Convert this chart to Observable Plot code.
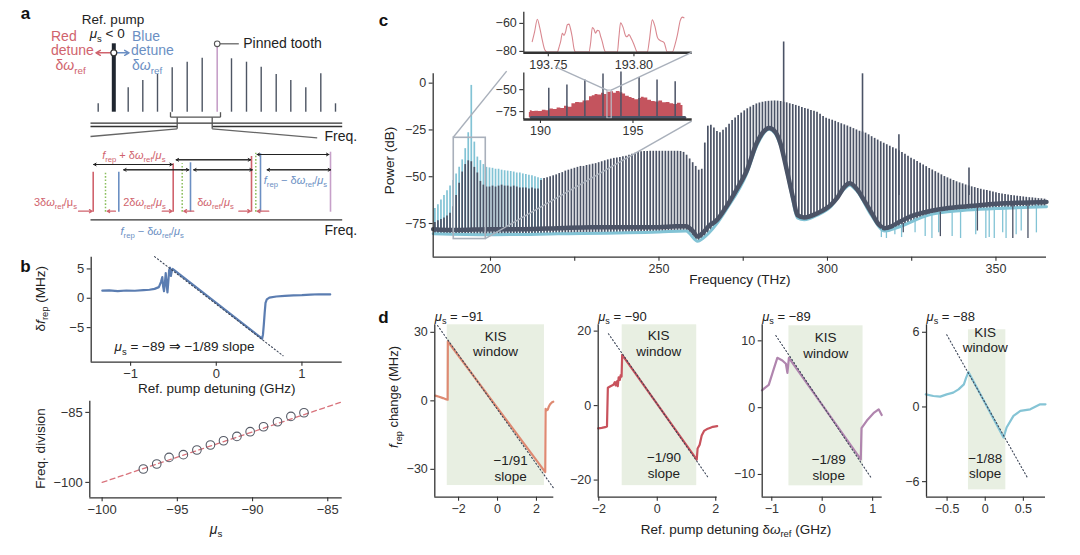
<!DOCTYPE html>
<html><head><meta charset="utf-8">
<script src="https://cdn.jsdelivr.net/npm/d3@7"></script>
<script src="https://cdn.jsdelivr.net/npm/@observablehq/plot@0.6"></script>
<style>
html,body{margin:0;padding:0;background:#fff;}
#root{position:relative;width:1080px;height:555px;overflow:hidden;background:#fff;font-family:'Liberation Sans',Arial,sans-serif;}
#root > div{position:absolute;}
</style></head><body><div id="root"></div>
<script>
// ---------------- DATA ----------------
// Panel c: comb teeth (0.9 THz comb), dark trace tooth peaks (dB)
const combStartTHz = 183.5, combSpacingTHz = 0.9;
const darkTeethDb = [
  -74.5,-73.5,-72.8,-72,-71,-69.5,-66,-60,-53.5,-47.5,
  -43.5,-41.5,-42,-45,-48,-52.5,-54.5,-55.5,-55.5,-55,
  -55.5,-55,-54.5,-55,-55,-55.5,-55,-55.5,-56,-56,
  -56,-56.5,-56,-56.5,-56.5,-52,-51,-50.5,-50,-49.5,
  -49,-48.3,-47.8,-47,-46.5,-46,-45.5,-45,-44.5,-44.5,
  -44,-43.7,-43.3,-43,-42.5,-42,-41.5,-41,-40.6,-40.2,
  -40,-39.7,-39.3,-39,-38.5,-38,-37.5,-37,-36.6,-36.5,
  -36.5,-36.4,-36.4,-36.4,-36.4,-36.4,-36.4,-36.4,-36.4,-36.4,
  -36.4,-36.5,-37,-38.5,-40.5,-42.5,-44.5,-46.5,-46,-32,
  -23,-22.5,-24,-25.8,-26.5,-25.2,-23.8,-22,-20,-18.6,
  -17.3,-16,-14.8,-13.7,-12.8,-11.9,-11.1,-10.6,-10.2,-9.9,
  -9.7,-9.6,-9.5,-9.6,-9.8,-10.2,-10.5,-11,-11.4,-11.9,
  -12.4,-13,-13.5,-14,-14.6,-15,-15.5,-16.6,-17.8,-18.7,
  -19.3,-19.8,-20.4,-21.1,-21.7,-22.3,-22.9,-23.6,-24.3,-25,
  -25.7,-26.1,-26.7,-27.6,-28.6,-29.5,-30.4,-31.3,-32.1,-32.9,
  -33.7,-34.5,-35.2,-36.1,-37.1,-38,-39.1,-40.1,-40.9,-41.9,
  -42.8,-43.7,-44.6,-45.6,-46.4,-47.3,-48.1,-49,-49.9,-50.6,
  -51.3,-52,-52.7,-53.3,-53.8,-54.4,-54.9,-55.4,-55.8,-56.3,
  -56.7,-57.1,-57.4,-57.8,-58.2,-58.6,-58.9,-59.2,-59.5,-59.8,
  -60,-60.2,-60.4,-60.6,-60.8,-61,-61.2,-61.3,-61.5,-61.7,
  -61.8,-62];
// cyan trace tooth peaks, low-frequency end (first 36 teeth)
const cyanTeethDb = [-67,-65,-62.5,-60,-57.5,-55,-52,-48.5,-45,-41,-35,-26.5,-1.2,-31.5,-39.5,-41.4,-43.5,-45,-45.3,-45.5,-46,-46,-46.5,-46.8,-47,-47.2,-47.5,-48,-48,-48.5,-48.8,-49.2,-49.5,-50,-50.5,-51];
const pumpSpikes = [{f:287.0, db:22},{f:310.4, db:5},{f:321.2, db:-27.6},{f:342.0, db:-45.3}];
const darkFloor = [[183,-78],[190,-78.5],[200,-78],[210,-78],[220,-77.5],[230,-77],[240,-77],[250,-77],[255,-76.5],[258,-76.5],[260,-79],[261.5,-82],[263,-80],[265,-76],[267,-73.5],[270,-66],[273,-57],[276,-47],[279,-32],[281,-26],[282.7,-24],[284.5,-26],[286.1,-32.5],[287.5,-43],[289.1,-56],[290,-63],[291.1,-70.5],[293.1,-71.8],[297,-69.5],[301,-65],[303,-61],[305,-55.5],[306.6,-53.5],[308.9,-57],[311,-63],[313,-69],[315,-75],[317,-77.5],[319,-76.5],[321,-74.5],[325,-71],[330,-68.5],[335,-67],[340,-66],[345,-65.2],[350,-64.5],[355,-64],[360,-63.8],[365,-63.5]];
const cyanFloor = [[183,-80.5],[200,-81],[220,-80.5],[250,-79.5],[258,-79],[261.5,-84.5],[263,-83],[267,-75.5],[270,-67.5],[276,-48.5],[279,-33.5],[282.7,-24.6],[286.1,-33.3],[289.1,-57],[291.1,-72],[293.1,-73],[297,-70.5],[301,-66],[305,-56.5],[306.6,-54.5],[308.9,-58],[313,-70.5],[317,-79],[321,-77],[330,-70.5],[340,-68],[350,-67],[365,-66]];
const cyanDips = [[316,-78,-82.5],[317.5,-79,-83],[320,-77,-81],[322,-76,-82.5],[326,-72,-80],[329,-71,-82],[331,-70,-83],[333,-69,-80],[337,-68,-82],[339.5,-68,-83],[344,-67,-81],[347,-67,-83],[348,-67,-82.5],[349.5,-66,-83],[352,-66,-80],[353,-66,-83],[356,-66,-81],[357.5,-66,-79],[362,-65,-80]];
const darkDips = [[322.5,-75,-80],[333.5,-69,-82],[344.5,-66,-79],[355,-65,-83],[359.5,-65,-83]];
const zoomBox = [{x1:189.1, x2:198.6, y1:-83.3, y2:-29.2}];
// inset (lower): high-resolution spectrum
const insetRed = [[189.4,-76],[189.5,-74],[189.6,-75],[189.8,-74.5],[190.0,-75],[190.2,-73.5],[190.4,-74],[190.6,-72],[190.8,-72.5],[191.0,-71],[191.2,-71.5],[191.4,-69],[191.6,-70],[191.8,-66],[192.0,-64.5],[192.2,-65],[192.4,-63],[192.6,-62.5],[192.7,-58],[192.9,-57],[193.0,-55.5],[193.2,-56],[193.4,-54],[193.5,-55.5],[193.7,-53],[193.9,-52.5],[194.0,-54],[194.2,-52],[194.4,-53.5],[194.5,-55],[194.7,-57.5],[194.9,-59],[195.0,-60],[195.2,-61.5],[195.4,-60],[195.5,-58.5],[195.7,-59.5],[195.9,-62],[196.1,-63.5],[196.3,-64],[196.5,-63],[196.7,-65],[196.9,-64.5],[197.1,-66],[197.3,-67],[197.5,-65.5],[197.7,-68]];
const insetTeeth = [[190.45,-48.5],[191.43,-44.7],[192.4,-39],[193.38,-32.2],[194.35,-30],[195.33,-36],[196.3,-39],[197.28,-41]];
const insetBase = [[189.5,-81.8],[197.8,-81.8]];
const insetWindow = [{x1:193.62, x2:193.85, y1:-83, y2:-51}];
// inset (upper): single comb tooth structure
const upperTrace = [[193.7406,-73],[193.7420,-66],[193.7436,-57],[193.7450,-63],[193.7465,-72],[193.7480,-79],[193.7494,-80.5],[193.7552,-80.5],[193.7565,-76],[193.7572,-73],[193.7582,-67],[193.7591,-68.5],[193.7601,-66],[193.7611,-61],[193.7621,-60.5],[193.7630,-64],[193.7640,-70],[193.7650,-78],[193.7660,-80.5],[193.7737,-80.5],[193.7747,-74],[193.7757,-63],[193.7766,-64],[193.7776,-67],[193.7786,-65],[193.7796,-65.2],[193.7805,-69],[193.7815,-73],[193.7825,-78],[193.7835,-80.5],[193.7903,-80.5],[193.7912,-70],[193.7922,-59.5],[193.7937,-63],[193.7952,-69],[193.7960,-69.5],[193.7971,-68],[193.7985,-71],[193.8000,-75],[193.8020,-80.5],[193.8078,-80.5],[193.8090,-72],[193.8107,-57.5],[193.8122,-62],[193.8137,-70],[193.8150,-72],[193.8175,-73.5],[193.8195,-80.5],[193.8224,-80.5],[193.8240,-75],[193.8254,-68],[193.8270,-58],[193.8283,-55.5],[193.8292,-56]];
// Panel b (top): rep-rate change vs detuning
const bTrace = [[-1.33,1.3],[-1.25,1.35],[-1.15,1.22],[-1.05,1.32],[-0.95,1.28],[-0.85,1.38],[-0.78,1.45],[-0.72,1.6],[-0.67,1.9],[-0.645,2.8],[-0.63,3.6],[-0.62,2.0],[-0.61,1.2],[-0.6,2.5],[-0.59,4.3],[-0.58,2.5],[-0.57,1.0],[-0.56,2.8],[-0.55,4.8],[-0.54,5.2],[-0.53,3.8],[-0.52,4.6],[-0.51,5.0],[-0.495,4.85],[0.535,-6.9],[0.545,-6.2],[0.555,-4.5],[0.565,-2.5],[0.575,-0.8],[0.59,-0.2],[0.62,0.1],[0.7,0.3],[0.8,0.42],[0.9,0.5],[1.0,0.52],[1.1,0.62],[1.2,0.68],[1.33,0.65]];
const bSlope = [[-0.72,7.1],[0.78,-9.8]];
// Panel b (bottom): frequency division vs mu_s
const bMu = [-97.26,-96.37,-95.55,-94.6,-93.7,-92.8,-91.93,-91.04,-90.16,-89.27,-88.34,-87.45,-86.58];
const bDiv = [-97.13,-96.06,-94.64,-94.06,-93.06,-91.99,-91.07,-90.14,-89.14,-88.07,-87.0,-85.86,-85.07];
const bFit = [[-100,-100],[-84.16,-82.86]];
// Panel d
const d1Trace = [[-3.2,2.3],[-3.0,1.8],[-2.8,1.2],[-2.62,0.6],[-2.56,0.5],[-2.55,26],[2.45,-31.2],[2.47,-3.5],[2.52,-4.2],[2.58,-3.8],[2.63,-2.6],[2.7,-1.5],[2.8,-0.6],[2.86,-0.4]];
const d2Trace = [[-2.02,-6.1],[-1.9,-6],[-1.78,-5.8],[-1.72,-5.6],[-1.69,4.8],[-1.6,5.2],[-1.5,5.6],[-1.45,6.3],[-1.42,5.4],[-1.38,6.5],[-1.35,5.2],[-1.32,7.6],[-1.28,6.9],[-1.25,8.2],[-1.22,7.8],[-1.2,13.6],[1.35,-14.5],[1.38,-11.5],[1.45,-10.5],[1.52,-8],[1.6,-6.8],[1.7,-6.3],[1.8,-6],[1.9,-5.7],[2.05,-5.5]];
const d3Trace = [[-1.195,2.6],[-1.13,3.0],[-1.06,3.4],[-0.96,5.8],[-0.89,7.46],[-0.79,7.06],[-0.72,6.57],[-0.69,5.2],[-0.66,7.46],[0.765,-7.75],[0.78,-3.05],[0.9,-1.8],[1.03,-0.74],[1.12,-0.25],[1.18,-1.1]];
const d4Trace = [[-0.78,1.01],[-0.68,0.88],[-0.59,0.83],[-0.505,1.01],[-0.42,1.15],[-0.35,1.41],[-0.28,1.81],[-0.25,2.35],[-0.22,2.8],[0.24,-2.45],[0.28,-1.65],[0.37,-0.72],[0.46,-0.32],[0.59,-0.19],[0.72,0.21],[0.79,0.21]];
const dSlopes = [[[-3.08,33],[2.86,-38]],[[-1.67,19.3],[1.73,-19.2]],[[-0.92,10.8],[0.98,-10.6]],[[-0.505,5.8],[0.55,-5.65]]];
const dWindows = [{x1:-2.58,x2:2.41,y1:-37.1,y2:33.3},{x1:-1.2,x2:1.35,y1:-21.5,y2:21.7},{x1:-0.66,x2:0.81,y1:-11.7,y2:12.25},{x1:-0.22,x2:0.27,y1:-6.66,y2:6.2}];
const dMu = ["−91","−90","−89","−88"];
const dXTicks = [[-2,0,2],[-2,0,2],[-1,0,1],[-0.5,0,0.5]];
const dYTicks = [[30,0,-30],[20,0,-20],[10,0,-10],[6,0,-6]];
// Panel a schematic (diagram units)
const aTeeth = [[97.7,103.3],[127.7,87.3],[142.3,80],[157,74],[171.7,67.3],[186.7,61.7],[201.7,57.7],[231,58.3],[246,61.7],[260.7,66.7],[275.7,74],[290.3,80],[305.3,87.3],[320.3,73.3],[335,103.3]];
const aPump = [[113.3,43.3]];
const aPinned = [[216.7,43.3]];

// ---------------- STYLE ----------------
const FONT = "'Liberation Sans', Arial, Helvetica, sans-serif";
const AX = "#333";
const DARK = "#4b5366", CYAN = "#82c3d5", BOXC = "#a9b0bb";
const RED = "#d0636d", BLUE = "#6b8fc3", GREEN = "#8bbf5e", PINK = "#c7a0c9";
const dColors = ["#de8a72","#c8525c","#b085ae","#85c4d5"];
const KIS = "#e8efe2";
const style = {fontFamily: FONT, fontSize: "12.5px", color: AX, background: "transparent", overflow: "visible"};
const fmt = d => (d < 0 ? "\u2212" + Math.abs(d) : String(d));
const root = document.getElementById("root");
function place(el, left, top, w) {
  const d = document.createElement("div");
  d.style.left = left + "px"; d.style.top = top + "px"; d.style.width = w + "px";
  d.appendChild(el); root.appendChild(d); return [left, top];
}
function axes(xt, yt, xd, yd, o = {}) {
  const m = [
    Plot.ruleX([xd[0]], {stroke: AX, strokeWidth: o.yw || 1.3}),
    Plot.ruleY([yd[0]], {stroke: AX, strokeWidth: o.xw || 1.3}),
    Plot.axisX(xt, {tickSize: 4, tickPadding: 3, fontSize: o.fs || 12.5, label: null, tickFormat: o.xf || fmt, strokeWidth: 1.1}),
    Plot.axisY(yt, {tickSize: 4, tickPadding: 3, fontSize: o.fs || 12.5, label: null, tickFormat: o.yf || fmt, strokeWidth: 1.1})
  ];
  if (o.xminor) m.push(Plot.axisX(o.xminor, {tickSize: 4, fill: "none", label: null, strokeWidth: 1.1}));
  return m;
}
const txt = d => d;
const letter = (s, dx, dy) => Plot.text([s], {frameAnchor: "top-left", dx, dy, text: txt, textAnchor: "middle", fontWeight: "bold", fontSize: 17, fill: "#111"});
const ylab = (s, dx, dy, fs) => Plot.text([s], {frameAnchor: "left", dx, dy, rotate: -90, textAnchor: "middle", text: txt, fontSize: fs, fill: "#222"});

// ---------------- PANEL A ----------------
const aLinks = [[90,122.7,341.7,122.7,AX],[90,126,176.7,126,AX],[211.7,126,341.7,126,AX],[90,219.3,341.7,219.3,AX],
  [170,111.7,170,116.7,"#555"],[220,111.7,220,116.7,"#555"],[170,116.7,220,116.7,"#555"],[176.7,116.7,176.7,128.3,"#555"],[211.7,116.7,211.7,128.3,"#555"],
  [176.7,128.3,90,136,"#666"],[211.7,128.3,316.7,137.3,"#666"],[216.7,43.3,238.3,43.3,"#666"]];
const aLower = [{x:92.7,y:171.7,c:RED},{x:105,y:171.7,c:GREEN,dash:1},{x:118.3,y:171.7,c:BLUE},{x:172.7,y:163.3,c:RED},{x:181.7,y:163.3,c:GREEN,dash:1},{x:190,y:162.3,c:BLUE},{x:251,y:156,c:RED},{x:255.3,y:152.7,c:GREEN,dash:1},{x:260,y:153.3,c:BLUE},{x:330,y:151.7,c:PINK}];
const aDbl = [[164,93.3,171.7],[169.3,123.3,188.3],[159.3,175.7,250],[169.3,193.3,251.7],[154,256.7,328.3],[169.3,266.7,330]];
const aSmall = [[78,91.7],[115,106.7],[161.7,171.7],[193.3,183.3],[238.3,250],[268.3,256.7]];
const aDetune = [{x1:113.3,x2:95.5,c:RED},{x1:113.3,x2:128.5,c:BLUE}];
const aLabels = [
  {x:112.5,y:19,t:"Ref. pump",c:"#222",a:"middle",s:13.5},
  {x:106.7,y:33.5,t:"~μ~_{s} < 0",c:"#222",a:"middle",s:13.5},
  {x:50.5,y:36,t:"Red",c:RED,a:"start",s:14},
  {x:50.5,y:50.5,t:"detune",c:RED,a:"start",s:14},
  {x:55,y:65.5,t:"δ~ω~_{ref}",c:RED,a:"start",s:14},
  {x:131.5,y:36,t:"Blue",c:BLUE,a:"start",s:14},
  {x:130.5,y:50.5,t:"detune",c:BLUE,a:"start",s:14},
  {x:131.5,y:65.5,t:"δ~ω~_{ref}",c:BLUE,a:"start",s:14},
  {x:242.7,y:43.3,t:"Pinned tooth",c:"#222",a:"start",s:14},
  {x:324,y:136,t:"Freq.",c:"#222",a:"start",s:14},
  {x:324,y:230.5,t:"Freq.",c:"#222",a:"start",s:14},
  {x:133.3,y:155,t:"~f~_{rep} + δ~ω~_{ref}/~μ~_{s}",c:RED,a:"middle",s:11},
  {x:55,y:202,t:"3δ~ω~_{ref}/μ_{s}",c:RED,a:"middle",s:11},
  {x:144,y:202,t:"2δ~ω~_{ref}/~μ~_{s}",c:RED,a:"middle",s:11},
  {x:215,y:202,t:"δ~ω~_{ref}/~μ~_{s}",c:RED,a:"middle",s:11},
  {x:263.3,y:180,t:"~f~_{rep} − δ~ω~_{ref}/~μ~_{s}",c:BLUE,a:"start",s:11},
  {x:151.7,y:230.5,t:"~f~_{rep} − δ~ω~_{ref}/~μ~_{s}",c:BLUE,a:"middle",s:11}
];
const aPlot = Plot.plot({
  width: 360, height: 250, margin: 0, style,
  x: {domain: [0, 360], range: [0, 360], axis: null},
  y: {domain: [0, 250], range: [0, 250], axis: null},
  marks: [
    Plot.ruleX(aTeeth, {x: d => d[0], y1: 111.7, y2: d => d[1], stroke: "#4d5563", strokeWidth: 1.4}),
    Plot.ruleX(aPinned, {x: d => d[0], y1: 111.7, y2: d => d[1], stroke: PINK, strokeWidth: 1.6}),
    Plot.ruleX(aPump, {x: d => d[0], y1: 111.7, y2: d => d[1], stroke: "#1f2630", strokeWidth: 4}),
    Plot.link(aLinks, {x1: d => d[0], y1: d => d[1], x2: d => d[2], y2: d => d[3], stroke: d => d[4], strokeWidth: 1.3}),
    Plot.arrow(aDetune, {x1: "x1", x2: "x2", y1: 52.3, y2: 52.3, stroke: "c", strokeWidth: 1.5, headLength: 5}),
    Plot.dot([[113.3,52.3]], {x: d => d[0], y: d => d[1], r: 3, fill: "white", stroke: "#333", strokeWidth: 1.2}),
    Plot.dot(aPinned, {x: d => d[0], y: d => d[1], r: 2.8, fill: "white", stroke: "#555", strokeWidth: 1.1}),
    Plot.ruleX(aLower.filter(d => !d.dash), {x: "x", y1: 211.7, y2: "y", stroke: "c", strokeWidth: 1.6}),
    Plot.ruleX(aLower.filter(d => d.dash), {x: "x", y1: 211.7, y2: "y", stroke: "c", strokeWidth: 1.5, strokeDasharray: "1.6,1.8"}),
    Plot.arrow(aDbl, {x1: d => d[1], x2: d => d[2], y1: d => d[0], y2: d => d[0], stroke: "#222", strokeWidth: 1, headLength: 4}),
    Plot.arrow(aDbl, {x1: d => d[2], x2: d => d[1], y1: d => d[0], y2: d => d[0], stroke: "#222", strokeWidth: 1, headLength: 4}),
    Plot.arrow(aSmall, {x1: d => d[0], x2: d => d[1], y1: 210.7, y2: 210.7, stroke: RED, strokeWidth: 1.2, headLength: 4}),
    Plot.text(aLabels.filter(d => d.a === "middle"), {x: "x", y: "y", text: "t", fill: "c", fontSize: "s", textAnchor: "middle"}),
    Plot.text(aLabels.filter(d => d.a === "start"), {x: "x", y: "y", text: "t", fill: "c", fontSize: "s", textAnchor: "start"}),
    Plot.text(["a"], {x: 25, y: 13, text: txt, fontWeight: "bold", fontSize: 17, fill: "#111"})
  ]
});
place(aPlot, 0, 0, 360);

// ---------------- PANEL B ----------------
const bXd = [-1.46, 1.47], bYd = [-10.9, 7];
const bTop = Plot.plot({
  width: 360, height: 150, marginLeft: 90.7, marginRight: 18.3, marginTop: 6.7, marginBottom: 38.3, style,
  x: {domain: bXd}, y: {domain: bYd},
  marks: [
    Plot.line(bTrace, {x: d => d[0], y: d => d[1], stroke: "#5b7db1", strokeWidth: 2.2, strokeLinejoin: "round"}),
    Plot.line(bSlope, {x: d => d[0], y: d => d[1], stroke: "#3d4658", strokeWidth: 1.1, strokeDasharray: "1.2,2.4"}),
    ...axes([-1, 0, 1], [5, 0, -5], bXd, bYd, {fs: 13}),
    Plot.text(["~μ~_{s} = −89 ⇒ −1/89 slope"], {x: -0.37, y: -8.3, text: txt, fontSize: 13.5, fill: "#222"}),
    Plot.text(["Ref. pump detuning (GHz)"], {frameAnchor: "bottom", dy: 31, text: txt, fontSize: 13.5, fill: "#222"}),
    ylab("δ~f~_{rep} (MHz)", -51, -11, 13.5),
    letter("b", -65.7, 2.6)
  ]
});
place(bTop, 0, 250, 360);

const bbXd = [-100.82, -84.04], bbYd = [-103.3, -82.6];
const bBot = Plot.plot({
  width: 360, height: 160, marginLeft: 89.3, marginRight: 18.3, marginTop: 5.7, marginBottom: 57.7, style,
  x: {domain: bbXd}, y: {domain: bbYd},
  marks: [
    Plot.line(bFit, {x: d => d[0], y: d => d[1], stroke: "#d9737c", strokeWidth: 1.3, strokeDasharray: "5,3.5"}),
    Plot.dot(bMu.map((m, i) => ({m, v: bDiv[i]})), {x: "m", y: "v", r: 4.3, stroke: "#555a66", strokeWidth: 1.1, fill: "none"}),
    ...axes([-100, -95, -90, -85], [-85, -100], bbXd, bbYd, {fs: 13}),
    Plot.text(["~μ~_{s}"], {frameAnchor: "bottom", dy: 35.7, text: txt, fontSize: 14, fill: "#222"}),
    ylab("Freq. division", -49.3, -1, 13.5)
  ]
});
place(bBot, 0, 395, 360);

// ---------------- PANEL C ----------------
const cXd = [183, 365], cYd = [-93, 5];
const darkTeeth = darkTeethDb.map((db, i) => ({f: combStartTHz + i * combSpacingTHz, db}));
const cyanTeeth = cyanTeethDb.map((db, i) => ({f: combStartTHz + i * combSpacingTHz, db}));
const cPlot = Plot.plot({
  width: 700, height: 300, marginLeft: 62.7, marginRight: 24, marginTop: 73.3, marginBottom: 43.3, style,
  x: {domain: cXd}, y: {domain: cYd},
  marks: [
    Plot.ruleX(cyanTeeth, {x: "f", y1: -90, y2: "db", stroke: CYAN, strokeWidth: 1.7}),
    Plot.ruleX(darkTeeth, {x: "f", y1: -90, y2: "db", stroke: DARK, strokeWidth: 1.7}),
    Plot.ruleX(pumpSpikes, {x: "f", y1: -60, y2: "db", stroke: DARK, strokeWidth: 1.6}),
    Plot.areaY(cyanFloor, {x: d => d[0], y1: -93, y2: d => d[1], fill: "white", curve: "monotone-x"}),
    Plot.line(cyanFloor, {x: d => d[0], y: d => d[1], stroke: CYAN, strokeWidth: 3, curve: "monotone-x"}),
    Plot.line(darkFloor, {x: d => d[0], y: d => d[1], stroke: DARK, strokeWidth: 4.5, curve: "monotone-x"}),
    Plot.ruleX(cyanDips, {x: d => d[0], y1: d => d[1], y2: d => d[2], stroke: CYAN, strokeWidth: 1.3}),
    Plot.ruleX(darkDips, {x: d => d[0], y1: d => d[1], y2: d => d[2], stroke: DARK, strokeWidth: 1.3}),
    Plot.rect(zoomBox, {x1: "x1", x2: "x2", y1: "y1", y2: "y2", fill: "none", stroke: BOXC, strokeWidth: 1.6}),
    ...axes([200, 250, 300, 350], [0, -25, -50, -75], cXd, cYd, {xminor: [225, 275, 325]}),
    Plot.text(["Frequency (THz)"], {frameAnchor: "bottom", dy: 26.3, text: txt, fontSize: 13.5, fill: "#222"}),
    ylab("Power (dB)", -43.7, -5, 13.5),
    letter("c", -49.7, -60.3)
  ]
});
const cOff = place(cPlot, 370, 0, 700);

const upXd = [193.7357, 193.834], upYd = [-81, -52];
const upPlot = Plot.plot({
  width: 230, height: 75, marginLeft: 53.3, marginRight: 8.3, marginTop: 11.7, marginBottom: 22.7, style,
  x: {domain: upXd}, y: {domain: upYd},
  marks: [
    Plot.line(upperTrace, {x: d => d[0], y: d => d[1], stroke: "#d98890", strokeWidth: 1.1, curve: "monotone-x"}),
    ...axes([193.75, 193.80], [-60, -80], upXd, upYd, {fs: 12.5, xw: 2.6, xf: d => d.toFixed(2)})
  ]
});
const upOff = place(upPlot, 470, 0, 230);

const loXd = [189.1, 198.2], loYd = [-84, -31];
const loPlot = Plot.plot({
  width: 230, height: 80, marginLeft: 53.3, marginRight: 8.3, marginTop: 10.5, marginBottom: 23, style,
  x: {domain: loXd}, y: {domain: loYd},
  marks: [
    Plot.areaY(insetRed, {x: d => d[0], y1: -82, y2: d => d[1], fill: "#c4545e", curve: "step"}),
    Plot.ruleX(insetTeeth, {x: d => d[0], y1: -82, y2: d => d[1], stroke: DARK, strokeWidth: 1.5}),
    Plot.line(insetBase, {x: d => d[0], y: d => d[1], stroke: DARK, strokeWidth: 3}),
    Plot.rect(insetWindow, {x1: "x1", x2: "x2", y1: "y1", y2: "y2", fill: "none", stroke: "#b9bec7", strokeWidth: 1.2}),
    ...axes([190, 195], [-50, -75], loXd, loYd, {fs: 12.5, xw: 2.6})
  ]
});
const loOff = place(loPlot, 470, 62, 230);

// ---------------- PANEL D ----------------
const dCfg = [
  {left: 380, w: 180, ml: 54.3, mr: 6.7, xd: [-3.22, 2.89], yd: [-42.2, 33.3], data: d1Trace, kis: [-0.1, 25.1], sl: [0.67, -29.5], lab: "−1/91"},
  {left: 550, w: 180, ml: 47.7, mr: 13.3, xd: [-2.02, 2.05], yd: [-24.6, 21.7], data: d2Trace, kis: [0.05, 16.8], sl: [0.23, -15.9], lab: "−1/90"},
  {left: 715, w: 180, ml: 46.7, mr: 13.3, xd: [-1.19, 1.19], yd: [-13.4, 12.4], data: d3Trace, kis: [0.07, 9.4], sl: [0.13, -8.86], lab: "−1/89"},
  {left: 880, w: 190, ml: 46, mr: 25, xd: [-0.77, 0.79], yd: [-7.25, 6.6], data: d4Trace, kis: [0, 5.4], sl: [0, -4.72], lab: "−1/88"}
];
dCfg.forEach((c, i) => {
  const extra = [];
  if (i === 0) {
    extra.push(ylab("~f~_{rep} change (MHz)", -41, -14, 13));
    extra.push(letter("d", -51.3, -14.3));
  }
  if (i === 1) {
    extra.push(Plot.text(["Ref. pump detuning δ~ω~_{ref} (GHz)"], {frameAnchor: "bottom", dx: 78.3, dy: 36.3, text: txt, fontSize: 13.5, fill: "#222"}));
  }
  const p = Plot.plot({
    width: c.w, height: 240, marginLeft: c.ml, marginRight: c.mr, marginTop: 24.3, marginBottom: 43.3, style,
    x: {domain: c.xd}, y: {domain: c.yd},
    marks: [
      Plot.rect([dWindows[i]], {x1: "x1", x2: "x2", y1: "y1", y2: "y2", fill: KIS}),
      Plot.line(c.data, {x: d => d[0], y: d => d[1], stroke: dColors[i], strokeWidth: 2.2, strokeLinejoin: "round"}),
      Plot.line(dSlopes[i], {x: d => d[0], y: d => d[1], stroke: "#3d4658", strokeWidth: 1.1, strokeDasharray: "1.2,2.4"}),
      ...axes(dXTicks[i], dYTicks[i], c.xd, c.yd, {fs: 12.5}),
      Plot.text(["KIS\nwindow"], {x: c.kis[0], y: c.kis[1], text: txt, fontSize: 13.5, lineHeight: 1.15, fill: "#222"}),
      Plot.text([c.lab + "\nslope"], {x: c.sl[0], y: c.sl[1], text: txt, fontSize: 13.5, lineHeight: 1.15, fill: "#222"}),
      Plot.text(["~μ~_{s} = " + dMu[i]], {frameAnchor: "top-left", dy: -13.3, textAnchor: "start", text: txt, fontSize: 13, fill: "#222"}),
      ...extra
    ]
  });
  place(p, c.left, 300, c.w);
});

// ---------------- CONNECTORS (zoom guides) ----------------
const P = (plot, off, x, y) => [off[0] + plot.scale("x").apply(x), off[1] + plot.scale("y").apply(y)];
const guides = [];
guides.push([P(cPlot, cOff, zoomBox[0].x1, zoomBox[0].y2), P(loPlot, loOff, 188.2, -29.5)]);
guides.push([P(cPlot, cOff, zoomBox[0].x2, zoomBox[0].y1), P(loPlot, loOff, 198.2, -86.5)]);
{
  const a = P(upPlot, upOff, upXd[0], upYd[0]), b = P(loPlot, loOff, insetWindow[0].x1, insetWindow[0].y2);
  const t = 0.38;
  guides.push([[a[0] + t * (b[0] - a[0]), a[1] + t * (b[1] - a[1])], b]);
  guides.push([P(upPlot, upOff, upXd[1], upYd[0]), P(loPlot, loOff, insetWindow[0].x2, insetWindow[0].y2)]);
}
const ov = d3.select(root).append("svg").attr("width", 1080).attr("height", 555)
  .style("position", "absolute").style("left", "0px").style("top", "0px").style("pointer-events", "none");
ov.selectAll("line").data(guides).join("line")
  .attr("x1", d => d[0][0]).attr("y1", d => d[0][1]).attr("x2", d => d[1][0]).attr("y2", d => d[1][1])
  .attr("stroke", BOXC).attr("stroke-width", 1.4);

// ---------------- rich text: ~italic~ and _{subscript} ----------------
(function richify() {
  const NS = "http://www.w3.org/2000/svg";
  const leaves = [...root.querySelectorAll("text, tspan")].filter(el => el.children.length === 0 && /[~]|_\{/.test(el.textContent));
  for (const el of leaves) {
    const s = el.textContent;
    const fs = parseFloat(getComputedStyle(el).fontSize) || 12.5;
    el.textContent = "";
    let italic = false, buf = "", shift = 0, i = 0;
    const flush = () => {
      if (!buf) return;
      const t = document.createElementNS(NS, "tspan");
      if (italic) t.setAttribute("font-style", "italic");
      if (shift) { t.setAttribute("dy", -shift); shift = 0; }
      t.textContent = buf; el.appendChild(t); buf = "";
    };
    while (i < s.length) {
      const ch = s[i];
      if (ch === "~") { flush(); italic = !italic; i++; }
      else if (ch === "_" && s[i + 1] === "{") {
        flush();
        const j = s.indexOf("}", i);
        const t = document.createElementNS(NS, "tspan");
        const d = fs * 0.28;
        t.setAttribute("dy", d - shift); shift = d;
        t.setAttribute("font-size", (fs * 0.7).toFixed(2));
        t.textContent = s.slice(i + 2, j); el.appendChild(t);
        i = j + 1;
      } else { buf += ch; i++; }
    }
    flush();
  }
})();
</script></body></html>
